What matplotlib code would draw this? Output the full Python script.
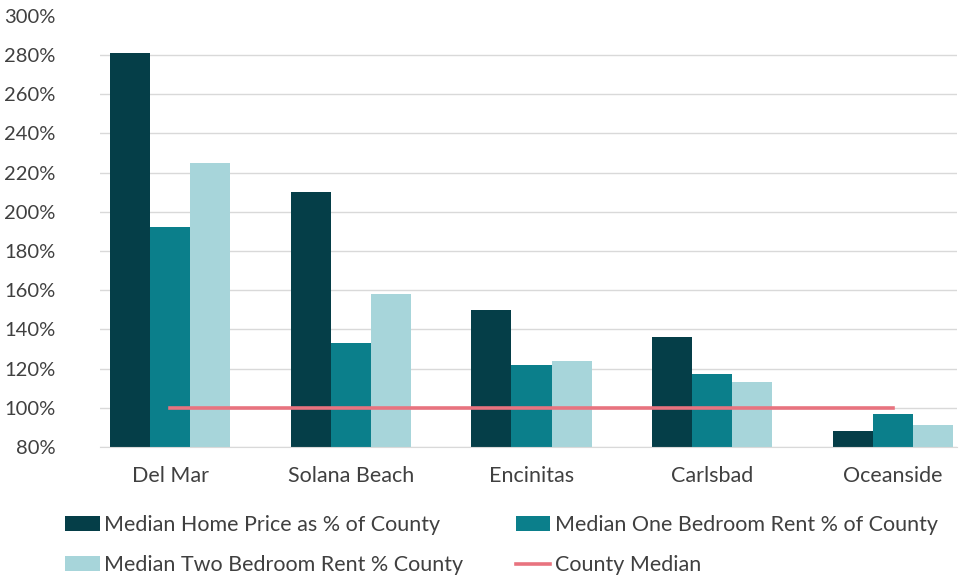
import numpy as np
import matplotlib.pyplot as plt
from matplotlib.ticker import PercentFormatter

cities = ['Del Mar', 'Solana Beach', 'Encinitas', 'Carlsbad', 'Oceanside']
home_price = [281, 210, 150, 136, 88]
one_bed_rent = [192, 133, 122, 117, 97]
two_bed_rent = [225, 158, 124, 113, 91]
county_median = [100, 100, 100, 100, 100]

series_labels = ['Median Home Price as % of County',
                 'Median One Bedroom Rent % of County',
                 'Median Two Bedroom Rent % County']
colors = ['#053e48', '#0b7f8b', '#a7d5da']
line_color = '#e8737f'
text_color = '#404040'

plt.rcParams['font.family'] = ['Lato', 'DejaVu Sans']

fig = plt.figure(figsize=(9.62, 5.77), dpi=100)
ax = fig.add_axes([100 / 962, 1 - 447 / 577, 857 / 962, (447 - 15.8) / 577])

x = np.arange(len(cities))
width = 40 / 180.75
for i, (vals, lab, col) in enumerate(zip([home_price, one_bed_rent, two_bed_rent],
                                         series_labels, colors)):
    ax.bar(x + (i - 1) * width, vals, width, bottom=0, color=col, label=lab, zorder=2)

ax.plot(x, county_median, color=line_color, lw=2.6, label='County Median', zorder=3)

ax.set_xlim(-70 / 180.75, 787 / 180.75)
ax.set_ylim(80, 300)
ax.set_yticks(np.arange(80, 301, 20))
ax.yaxis.set_major_formatter(PercentFormatter(decimals=0))
ax.set_xticks(x)
ax.set_xticklabels(cities)

ax.tick_params(axis='y', length=0, pad=32, labelsize=14.5, labelcolor=text_color)
ax.tick_params(axis='x', length=0, pad=14, labelsize=15.5, labelcolor=text_color)

ax.grid(axis='y', color='#d9d9d9', lw=1, zorder=0)
for s in ['top', 'right', 'left']:
    ax.spines[s].set_visible(False)
ax.spines['bottom'].set_color('#d9d9d9')
ax.yaxis.get_gridlines()[-1].set_visible(False)

# legend fills column by column, so interleave to get two rows
handles, labels = ax.get_legend_handles_labels()
order = [1, 3, 2, 0]
fig.legend([handles[k] for k in order], [labels[k] for k in order],
           loc='upper left', bbox_to_anchor=(46 / 962, 1 - 496 / 577), ncol=2,
           frameon=False, handlelength=1.6, handleheight=0.7,
           handletextpad=0.2, columnspacing=2.45, labelspacing=0.93,
           prop={'size': 15.5}, labelcolor=text_color)

fig.savefig('out.png', dpi=100)
